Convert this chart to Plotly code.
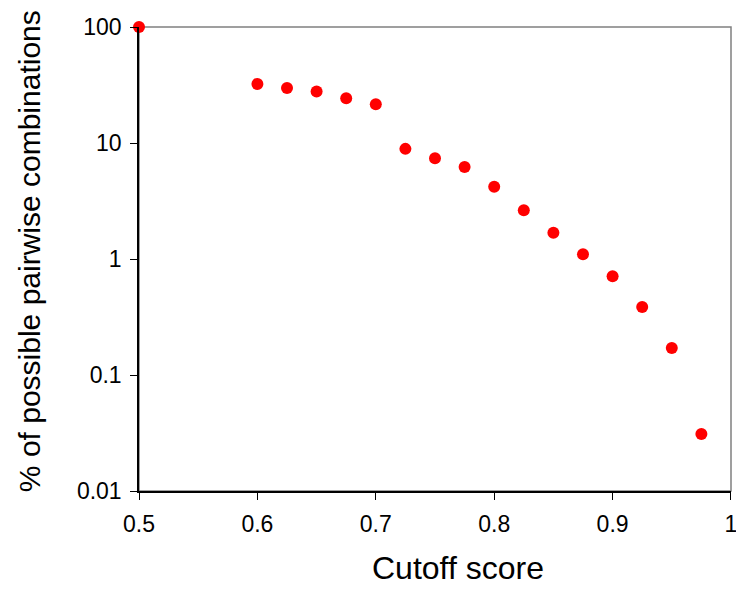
import plotly.graph_objects as go

cutoff = [0.5, 0.6, 0.625, 0.65, 0.675, 0.7, 0.725, 0.75, 0.775, 0.8,
          0.825, 0.85, 0.875, 0.9, 0.925, 0.95, 0.975]
percent = [100, 32.3, 29.8, 27.8, 24.3, 21.6, 8.9, 7.4, 6.2, 4.2,
           2.63, 1.68, 1.1, 0.71, 0.385, 0.171, 0.031]

x_ticks = [0.5, 0.6, 0.7, 0.8, 0.9, 1.0]
x_ticktext = ["0.5", "0.6", "0.7", "0.8", "0.9", "1"]
y_ticks = [0.01, 0.1, 1, 10, 100]
y_ticktext = ["0.01", "0.1", "1", "10", "100"]
x_title = "Cutoff score"
y_title = "% of possible pairwise combinations"

font = "Liberation Sans, Arial, sans-serif"

fig = go.Figure()
fig.add_trace(go.Scatter(
    x=cutoff, y=percent, mode="markers",
    marker=dict(color="#ff0000", size=12, line=dict(width=0)),
    cliponaxis=False, showlegend=False,
))

fig.add_shape(type="rect", xref="paper", yref="paper", x0=0, y0=0, x1=1, y1=1,
              line=dict(color="#808080", width=1.5), layer="below")

fig.add_annotation(text=x_title, xref="paper", yref="paper", x=0.539, y=-0.166,
                   showarrow=False, xanchor="center", yanchor="middle",
                   font=dict(size=32))
fig.add_annotation(text=y_title, xref="paper", yref="paper", x=-0.185, y=0.518,
                   showarrow=False, xanchor="center", yanchor="middle",
                   textangle=-90, font=dict(size=30))

fig.update_layout(
    width=736, height=592,
    margin=dict(l=139, r=5, t=27, b=101),
    paper_bgcolor="white", plot_bgcolor="white",
    font=dict(family=font, color="black"),
    xaxis=dict(
        range=[0.49999, 1.00001], tickvals=x_ticks, ticktext=x_ticktext,
        ticks="outside", ticklen=7, tickwidth=1.2, tickcolor="black",
        showline=True, linecolor="black", linewidth=1.5,
        showgrid=False, zeroline=False, automargin=False,
        tickfont=dict(size=23), ticklabeloverflow="allow", ticklabelstandoff=5,
    ),
    yaxis=dict(
        type="log", range=[-2, 2], tickvals=y_ticks, ticktext=y_ticktext,
        ticks="outside", ticklen=7, tickwidth=1.2, tickcolor="black",
        showline=True, linecolor="black", linewidth=1.5,
        showgrid=False, zeroline=False, automargin=False,
        tickfont=dict(size=23), ticklabelstandoff=4,
    ),
)

fig.write_html("out.html")
